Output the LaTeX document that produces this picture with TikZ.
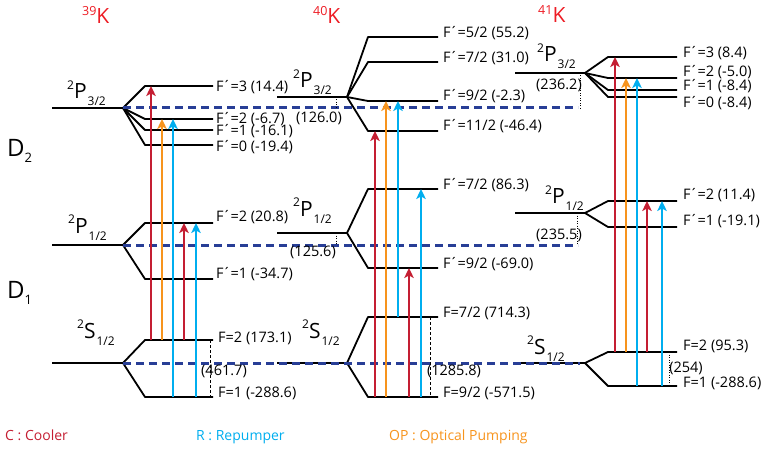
\documentclass[tikz,border=0pt]{standalone}
\usepackage{fontspec}
\setmainfont{Open Sans}
\usetikzlibrary{arrows.meta}
\definecolor{coolc}{RGB}{196,30,50}
\definecolor{repc}{RGB}{0,174,239}
\definecolor{opc}{RGB}{247,148,29}
\definecolor{dashc}{RGB}{40,62,150}
\definecolor{titlec}{RGB}{237,28,36}
\newcommand\trm[3]{{\fontsize{12}{12}\selectfont\raisebox{9.5pt}{#1}}{\fontsize{21}{21}\selectfont #2}\hspace{1pt}{\fontsize{12}{12}\selectfont\raisebox{-7pt}{#3}}}
\newcommand\dlab[2]{{\fontsize{24}{24}\selectfont #1}\raisebox{-6pt}{\fontsize{13}{13}\selectfont #2}}
\newcommand\iso[1]{{\fontsize{12.5}{12.5}\selectfont\raisebox{8pt}{#1}}{\fontsize{21}{21}\selectfont K}}
\newcommand\Fp{F\kern-1pt´\kern-0.5pt}
\tikzset{
 lvl/.style={line width=1.8pt, line join=round},
 arr/.style={line width=2.2pt, -{Stealth[length=10pt,width=9.5pt,inset=2.5pt]}},
 cool/.style={arr, draw=coolc},
 rep/.style={arr, draw=repc},
 opt/.style={arr, draw=opc},
 refl/.style={line width=3pt, draw=dashc, dash pattern=on 8pt off 5pt},
 gapd/.style={line width=0.7pt, dash pattern=on 1pt off 1.5pt},
 gaps/.style={line width=0.7pt, dash pattern=on 3pt off 2pt},
 lab/.style={font=\fontsize{14.5}{14.5}\selectfont, anchor=west, inner sep=0pt},
 big/.style={anchor=base west, inner sep=0pt},
 sml/.style={font=\fontsize{14.5}{14.5}\selectfont, inner sep=0pt},
 leg/.style={anchor=base west, inner sep=0pt, font=\fontsize{14}{14}\selectfont},
}
\begin{document}
\begin{tikzpicture}[x=1pt,y=-1pt]
\useasboundingbox (0,0) rectangle (765,449);
% ---------- dashed reference lines ----------
\coordinate (r1a) at (123,108); \coordinate (r1b) at (578,108);
\coordinate (r2a) at (123,245); \coordinate (r2b) at (578,245);
\coordinate (r3a) at (123,363); \coordinate (r3b) at (580,363);
% ---------- 39K ----------
\coordinate (a0) at (52,108); \coordinate (a1) at (123,108);
\coordinate (aF3) at (145,86);  \coordinate (aF2) at (145,119);
\coordinate (aF1) at (145,130); \coordinate (aF0) at (145,145);
\draw[lvl, line width=2.2pt] (a0) -- (a1);
\foreach \n in {aF3,aF2,aF1,aF0} \draw[lvl] (a1) -- (\n) -- ++(68,0);
\coordinate (b0) at (52,245); \coordinate (b1) at (123,245);
\coordinate (bF2) at (145,223); \coordinate (bF1) at (145,279);
\draw[lvl] (b0) -- (b1);
\foreach \n in {bF2,bF1} \draw[lvl] (b1) -- (\n) -- ++(68,0);
\coordinate (c0) at (52,363); \coordinate (c1) at (123,363);
\coordinate (cF2) at (145,340); \coordinate (cF1) at (145,397);
\draw[lvl] (c0) -- (c1);
\foreach \n in {cF2,cF1} \draw[lvl] (c1) -- (\n) -- ++(68,0);
% ---------- 40K ----------
\coordinate (d0) at (277,97); \coordinate (d1) at (347,97);
\coordinate (dF5) at (368,37);  \coordinate (dF7) at (368,62);
\coordinate (dF9) at (368,101); \coordinate (dF11) at (368,131);
\draw[lvl] (d0) -- (d1);
\foreach \n in {dF5,dF7,dF9,dF11} \draw[lvl] (d1) -- (\n) -- ++(70,0);
\coordinate (e0) at (277,233); \coordinate (e1) at (347,233);
\coordinate (eF7) at (368,189); \coordinate (eF9) at (368,268);
\draw[lvl] (e0) -- (e1);
\foreach \n in {eF7,eF9} \draw[lvl] (e1) -- (\n) -- ++(70,0);
\coordinate (f0) at (277,363); \coordinate (f1) at (347,363);
\coordinate (fF7) at (368,317); \coordinate (fF9) at (368,397);
\draw[lvl] (f0) -- (f1);
\foreach \n in {fF7,fF9} \draw[lvl] (f1) -- (\n) -- ++(70,0);
% ---------- 41K ----------
\coordinate (g0) at (515,73); \coordinate (g1) at (585,73);
\coordinate (gF3) at (608,57); \coordinate (gF2) at (608,78);
\coordinate (gF1) at (608,90); \coordinate (gF0) at (608,97);
\draw[lvl] (g0) -- (g1);
\foreach \n in {gF3,gF2,gF1,gF0} \draw[lvl] (g1) -- (\n) -- ++(69,0);
\coordinate (h0) at (515,213); \coordinate (h1) at (585,213);
\coordinate (hF2) at (608,201); \coordinate (hF1) at (608,227);
\draw[lvl] (h0) -- (h1);
\foreach \n in {hF2,hF1} \draw[lvl] (h1) -- (\n) -- ++(69,0);
\coordinate (i0) at (515,363); \coordinate (i1) at (585,363);
\coordinate (iF2) at (608,352); \coordinate (iF1) at (608,386);
\draw[lvl] (i0) -- (i1);
\foreach \n in {iF2,iF1} \draw[lvl] (i1) -- (\n) -- ++(69,0);
% dashed references on top
\draw[refl] (r1a) -- (r1b);
\draw[refl] (r2a) -- (r2b);
\draw[refl] (r3a) -- (r3b);
% ---------- gap markers ----------
\draw[gapd] (336,0 |- d0) -- (336,0 |- r1a);
\draw[gapd] (336,0 |- e0) -- (336,0 |- r2a);
\draw[gapd] (580,0 |- g0) -- (580,110);
\draw[gapd] (577,0 |- h0) -- (577,0 |- r2a);
\draw[gaps] (210,0 |- cF2) -- (210,0 |- cF1);
\draw[gaps] (430,0 |- fF7) -- (430,0 |- fF9);
\draw[gapd] (669,0 |- iF2) -- (669,0 |- iF1);
\node[sml] (g1l) at (319,118) {(126.0)};
\node[sml] (g2l) at (313,252) {(125.6)};
\node[sml] (g3l) at (559,85) {(236.2)};
\node[sml] (g4l) at (559,235) {(235.5)};
\node[sml] (g5l) at (224,371) {(461.7)};
\node[sml] (g6l) at (454,371) {(1285.8)};
\node[sml] (g7l) at (686,368) {(254)};
% ---------- arrows 39K ----------
\draw[cool] (151,0 |- cF2) -- (151,0 |- aF3);
\draw[opt]  (162,0 |- cF2) -- (162,0 |- aF2);
\draw[rep]  (173,0 |- cF1) -- (173,0 |- aF2);
\draw[cool] (184,0 |- cF2) -- (184,0 |- bF2);
\draw[rep]  (196,0 |- cF1) -- (196,0 |- bF2);
% ---------- arrows 40K ----------
\draw[cool] (375,0 |- fF9) -- (375,0 |- dF11);
\draw[opt]  (386,0 |- fF9) -- (386,0 |- dF9);
\draw[rep]  (398,0 |- fF7) -- (398,0 |- dF9);
\draw[cool] (409,0 |- fF9) -- (409,0 |- eF9);
\draw[rep]  (421,0 |- fF9) -- (421,0 |- eF7);
% ---------- arrows 41K ----------
\draw[cool] (615,0 |- iF2) -- (615,0 |- gF3);
\draw[opt]  (626,0 |- iF2) -- (626,0 |- gF2);
\draw[rep]  (637,0 |- iF1) -- (637,0 |- gF2);
\draw[cool] (647,0 |- iF2) -- (647,0 |- hF2);
\draw[rep]  (662,0 |- iF1) -- (662,0 |- hF2);
% ---------- level labels ----------
\node[lab] (la1) at (216,87)  {\Fp=3 (14.4)};
\node[lab] (la2) at (216,119) {\Fp=2 (-6.7)};
\node[lab] (la3) at (216,131) {\Fp=1 (-16.1)};
\node[lab] (la4) at (216,147) {\Fp=0 (-19.4)};
\node[lab] (lb1) at (216,217) {\Fp=2 (20.8)};
\node[lab] (lb2) at (216,274) {\Fp=1 (-34.7)};
\node[lab] (lc1) at (218,338) {F=2 (173.1)};
\node[lab] (lc2) at (218,393) {F=1 (-288.6)};
\node[lab] (ld1) at (443,33)  {\Fp=5/2 (55.2)};
\node[lab] (ld2) at (443,58)  {\Fp=7/2 (31.0)};
\node[lab] (ld3) at (443,96)  {\Fp=9/2 (-2.3)};
\node[lab] (ld4) at (443,126) {\Fp=11/2 (-46.4)};
\node[lab] (le1) at (443,185) {\Fp=7/2 (86.3)};
\node[lab] (le2) at (443,264) {\Fp=9/2 (-69.0)};
\node[lab] (lf1) at (443,313) {F=7/2 (714.3)};
\node[lab] (lf2) at (443,393) {F=9/2 (-571.5)};
\node[lab] (lg1) at (683,53)  {\Fp=3 (8.4)};
\node[lab] (lg2) at (683,72)  {\Fp=2 (-5.0)};
\node[lab] (lg3) at (683,86)  {\Fp=1 (-8.4)};
\node[lab] (lg4) at (683,103) {\Fp=0 (-8.4)};
\node[lab] (lh1) at (683,195) {\Fp=2 (11.4)};
\node[lab] (lh2) at (683,221) {\Fp=1 (-19.1)};
\node[lab] (li1) at (683,346) {F=2 (95.3)};
\node[lab] (li2) at (683,383) {F=1 (-288.6)};
% ---------- term labels ----------
\node[big] (ta) at (67,99)  {\trm{2}{P}{3/2}};
\node[big] (tb) at (68,233) {\trm{2}{P}{1/2}};
\node[big] (tc) at (77,338) {\trm{2}{S}{1/2}};
\node[big] (td) at (293,88) {\trm{2}{P}{3/2}};
\node[big] (te) at (293,216) {\trm{2}{P}{1/2}};
\node[big] (tf) at (302,338) {\trm{2}{S}{1/2}};
\node[big] (tg) at (537,62) {\trm{2}{P}{3/2}};
\node[big] (th) at (545,204) {\trm{2}{P}{1/2}};
\node[big] (ti) at (527,354) {\trm{2}{S}{1/2}};
% ---------- D labels ----------
\node[big] (D2) at (7,157) {\dlab{D}{2}};
\node[big] (D1) at (7,298) {\dlab{D}{1}};
% ---------- titles ----------
\node[big, text=titlec] (k39) at (82,24) {\iso{39}};
\node[big, text=titlec] (k40) at (313,24) {\iso{40}};
\node[big, text=titlec] (k41) at (538,23) {\iso{41}};
% ---------- legend ----------
\node[leg, text=coolc] (lgc) at (5,440) {C : Cooler};
\node[leg, text=repc] (lgr) at (196,440) {R : Repumper};
\node[leg, text=opc] (lgo) at (389,440) {OP : Optical Pumping};
\end{tikzpicture}
\end{document}
